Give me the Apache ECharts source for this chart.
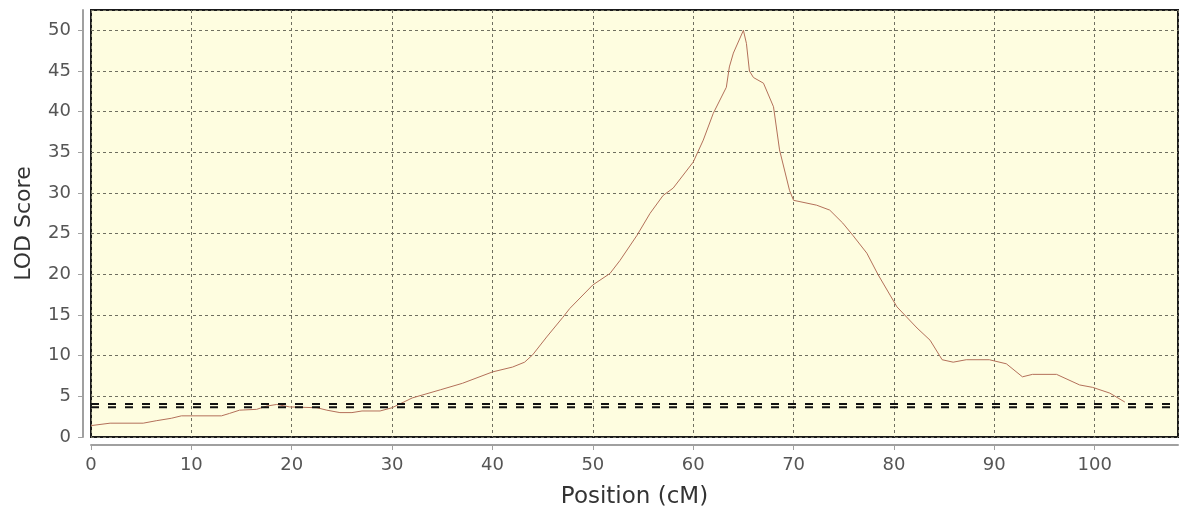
<!DOCTYPE html>
<html>
<head>
<meta charset="utf-8">
<script src="https://cdn.jsdelivr.net/npm/echarts@6/dist/echarts.min.js"></script>
<style>
html,body{margin:0;padding:0;background:#fff;}
#chart{width:1181px;height:518px;}
</style>
</head>
<body>
<div id="chart"></div>
<script>
// LOD profile
var positions = [0, 1.9, 5.2, 6.5, 8, 9, 13, 13.8, 14.8, 16.5, 17.5, 18.5, 19.8, 22.5, 23.5, 24.8, 26, 27, 28.8, 30,
  32, 34.8, 37, 40, 42, 43.2, 44, 45.4, 47, 47.7, 50, 51.7, 52.7, 54.4, 55.7, 57, 58, 60, 61, 62, 63.3, 63.6, 64, 65,
  65.3, 65.6, 66, 67, 68, 68.6, 69.6, 70, 72.3, 73.6, 74.9, 75.9, 77.3, 78.4, 80.3, 82.3, 83.6, 84.8, 85.9, 87.2,
  89.5, 91.2, 92.8, 93.8, 96.2, 98.5, 99.8, 101.5, 103];
var lod = [1.4, 1.7, 1.7, 2.0, 2.3, 2.6, 2.6, 2.9, 3.3, 3.4, 3.8, 4.0, 3.7, 3.6, 3.3, 3.0, 3.0, 3.2, 3.2, 3.6,
  4.8, 5.8, 6.6, 8.0, 8.6, 9.2, 10.1, 12.3, 14.7, 15.8, 18.7, 20.1, 21.7, 24.8, 27.5, 29.7, 30.6, 33.8, 36.5, 39.8, 43.0, 45.5, 47.2, 50.0,
  48.4, 45.0, 44.2, 43.5, 40.6, 35.3, 30.3, 29.1, 28.5, 27.9, 26.3, 24.8, 22.6, 20.0, 16.0, 13.4, 11.9, 9.5, 9.2, 9.5,
  9.5, 9.0, 7.4, 7.7, 7.7, 6.4, 6.1, 5.4, 4.3];
var thresholds = [4.05, 3.65];
var yTicks = [0, 5, 10, 15, 20, 25, 30, 35, 40, 45, 50];
var xTicks = [0, 10, 20, 30, 40, 50, 60, 70, 80, 90, 100];
var xMax = 108.3;
var yMax = 52.5;

var curve = [];
for (var i = 0; i < positions.length; i++) curve.push([positions[i], lod[i]]);

var series = [{
  type: 'line',
  data: curve,
  showSymbol: false,
  lineStyle: {color: '#b3705a', width: 1},
  z: 3
}];
thresholds.forEach(function (t) {
  series.push({
    type: 'line',
    data: [[0, t], [xMax, t]],
    showSymbol: false,
    lineStyle: {color: '#111', width: 2, type: [8, 9]},
    z: 4
  });
});

var chart = echarts.init(document.getElementById('chart'));
chart.setOption({
  animation: false,
  grid: {
    left: 91, right: 3, top: 10, bottom: 81,
    show: true,
    backgroundColor: '#fefde0',
    borderColor: '#1a1a1a',
    borderWidth: 2
  },
  xAxis: {
    type: 'value',
    min: 0, max: xMax, interval: 10,
    offset: 8,
    name: 'Position (cM)',
    nameLocation: 'middle',
    nameGap: 41,
    nameTextStyle: {fontFamily: 'DejaVu Sans', fontSize: 23, color: '#333'},
    axisLine: {show: true, onZero: false, lineStyle: {color: '#a0a0a0', width: 2}},
    axisTick: {show: true, length: 5, lineStyle: {color: '#a0a0a0'}},
    axisLabel: {
      margin: 11, fontFamily: 'DejaVu Sans', fontSize: 18, color: '#555', showMaxLabel: false,
      formatter: function (v) { return xTicks.indexOf(v) >= 0 ? String(v) : ''; }
    },
    splitLine: {show: true, lineStyle: {color: '#6f6f60', width: 1, type: [3, 3]}}
  },
  yAxis: {
    type: 'value',
    min: 0, max: yMax, interval: 5,
    offset: 8,
    name: 'LOD Score',
    nameLocation: 'middle',
    nameGap: 48,
    nameTextStyle: {fontFamily: 'DejaVu Sans', fontSize: 22, color: '#333'},
    axisLine: {show: true, onZero: false, lineStyle: {color: '#a0a0a0', width: 2}},
    axisTick: {show: true, length: 5, lineStyle: {color: '#a0a0a0'}},
    axisLabel: {
      margin: 12, fontFamily: 'DejaVu Sans', fontSize: 18, color: '#555', showMaxLabel: false,
      formatter: function (v) { return yTicks.indexOf(v) >= 0 ? String(v) : ''; }
    },
    splitLine: {show: true, lineStyle: {color: '#6f6f60', width: 1, type: [3, 3]}}
  },
  series: series
});
</script>
</body>
</html>
